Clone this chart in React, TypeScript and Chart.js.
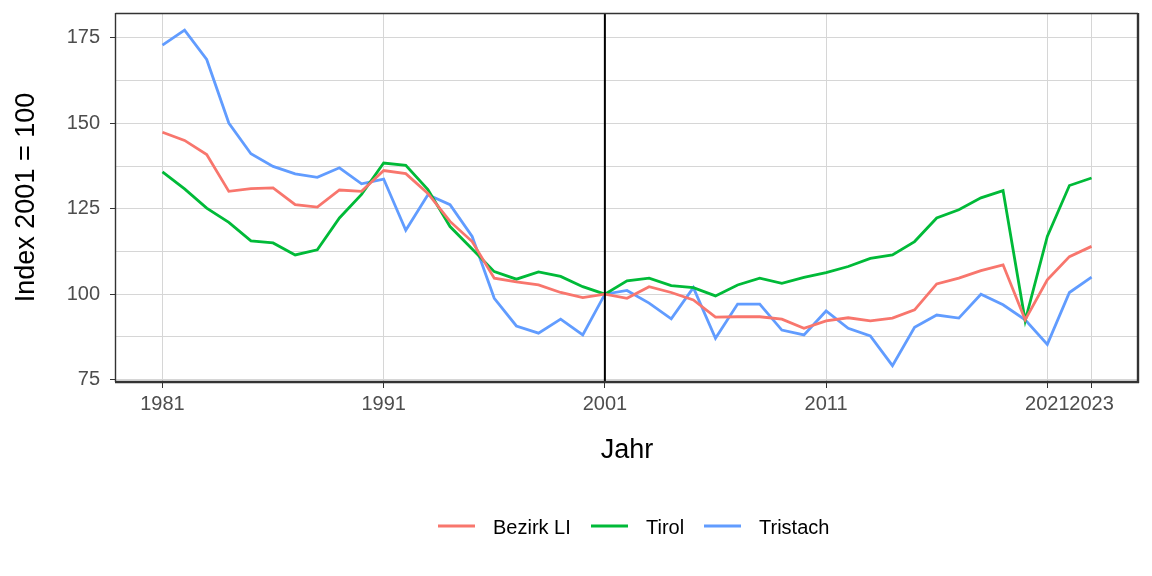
import React, { useEffect, useRef } from 'react';
import { Chart, registerables } from 'chart.js';

Chart.register(...registerables);

const years = [
  1981, 1982, 1983, 1984, 1985, 1986, 1987, 1988, 1989, 1990,
  1991, 1992, 1993, 1994, 1995, 1996, 1997, 1998, 1999, 2000,
  2001, 2002, 2003, 2004, 2005, 2006, 2007, 2008, 2009, 2010,
  2011, 2012, 2013, 2014, 2015, 2016, 2017, 2018, 2019, 2020,
  2021, 2022, 2023,
];

const bezirkLI = [
  147.4, 145.0, 140.9, 130.1, 130.9, 131.1, 126.2, 125.5, 130.5, 130.1,
  136.2, 135.3, 129.5, 121.3, 115.4, 104.7, 103.6, 102.7, 100.5, 99.0,
  100.0, 98.8, 102.2, 100.5, 98.3, 93.3, 93.4, 93.4, 92.7, 90.0,
  92.2, 93.1, 92.2, 93.0, 95.4, 103.0, 104.7, 106.9, 108.6, 92.5,
  104.2, 111.0, 114.0,
];

const tirol = [
  135.8, 130.8, 125.2, 121.0, 115.6, 115.0, 111.5, 113.0, 122.3, 129.2,
  138.4, 137.7, 130.6, 119.8, 113.2, 106.6, 104.4, 106.5, 105.2, 102.2,
  100.0, 103.9, 104.7, 102.5, 101.9, 99.5, 102.7, 104.7, 103.2, 104.9,
  106.3, 108.1, 110.5, 111.5, 115.4, 122.3, 124.7, 128.2, 130.3, 92.2,
  116.9, 131.8, 134.0,
];

const tristach = [
  172.9, 177.3, 168.7, 150.1, 141.1, 137.4, 135.2, 134.2, 137.0, 132.3,
  133.7, 118.7, 129.1, 126.2, 116.9, 98.8, 90.7, 88.6, 92.7, 88.1,
  100.0, 101.1, 97.4, 92.8, 101.9, 87.1, 97.1, 97.1, 89.5, 88.1,
  95.1, 90.0, 87.8, 79.1, 90.3, 93.9, 93.0, 100.0, 96.9, 92.5,
  85.3, 100.5, 105.0,
];

const seriesNames = ['Bezirk LI', 'Tirol', 'Tristach'];
const seriesColors = ['#F8766D', '#00BA38', '#619CFF'];
const xTickValues = [1981, 1991, 2001, 2011, 2021, 2023];
const yTickValues = [75, 87.5, 100, 112.5, 125, 137.5, 150, 162.5, 175];
const yLabelValues = [75, 100, 125, 150, 175];
const referenceYear = 2001;
const xTitle = 'Jahr';
const yTitle = 'Index 2001 = 100';

const FONT = '"Liberation Sans", Arial, sans-serif';

const decorPlugin = {
  id: 'decor',
  afterDatasetsDraw(chart: any) {
    const { ctx, chartArea: a, scales } = chart;
    const x = scales.x;
    ctx.save();
    const vx = x.getPixelForValue(referenceYear);
    ctx.strokeStyle = '#000000';
    ctx.lineWidth = 2;
    ctx.beginPath();
    ctx.moveTo(vx, a.top);
    ctx.lineTo(vx, a.bottom);
    ctx.stroke();
    ctx.strokeStyle = '#333333';
    ctx.lineWidth = 1.4;
    ctx.beginPath();
    ctx.moveTo(a.left - 0.5, a.top + 0.5);
    ctx.lineTo(a.right, a.top + 0.5);
    ctx.moveTo(a.left - 0.5, a.top);
    ctx.lineTo(a.left - 0.5, a.bottom);
    ctx.stroke();
    ctx.lineWidth = 2.4;
    ctx.beginPath();
    ctx.moveTo(a.right, a.top);
    ctx.lineTo(a.right, a.bottom + 1);
    ctx.moveTo(a.left - 1, a.bottom);
    ctx.lineTo(a.right + 1, a.bottom);
    ctx.stroke();
    ctx.restore();
  },
  afterDraw(chart: any) {
    const { ctx, chartArea: a } = chart;
    ctx.save();
    ctx.fillStyle = '#000000';
    ctx.font = `27px ${FONT}`;
    ctx.textAlign = 'center';
    ctx.textBaseline = 'alphabetic';
    ctx.fillText(xTitle, (a.left + a.right) / 2, 458);
    ctx.save();
    ctx.translate(34, (a.top + a.bottom) / 2);
    ctx.rotate(-Math.PI / 2);
    ctx.fillText(yTitle, 0, 0);
    ctx.restore();
    ctx.font = `20px ${FONT}`;
    ctx.textAlign = 'left';
    const sampleStarts = [438, 591, 704];
    for (let i = 0; i < seriesNames.length; i++) {
      const sx = sampleStarts[i];
      ctx.strokeStyle = seriesColors[i];
      ctx.lineWidth = 3;
      ctx.beginPath();
      ctx.moveTo(sx, 526);
      ctx.lineTo(sx + 37, 526);
      ctx.stroke();
      ctx.fillStyle = '#000000';
      ctx.fillText(seriesNames[i], sx + 55, 534);
    }
    ctx.restore();
  },
};

export default function App() {
  const ref = useRef<HTMLCanvasElement | null>(null);

  useEffect(() => {
    if (!ref.current) return;
    const seriesValues = [bezirkLI, tirol, tristach];
    const chart = new Chart(ref.current, {
      type: 'line',
      data: {
        datasets: seriesNames.map((name, i) => ({
          label: name,
          data: years.map((yr, j) => ({ x: yr, y: seriesValues[i][j] })),
          borderColor: seriesColors[i],
          backgroundColor: seriesColors[i],
          borderWidth: 2.8,
          pointRadius: 0,
          tension: 0,
          fill: false,
        })),
      },
      options: {
        animation: false,
        responsive: true,
        maintainAspectRatio: false,
        layout: { padding: { top: 13, right: 14, left: 0, bottom: 0 } },
        plugins: {
          legend: { display: false },
          tooltip: { enabled: false },
        },
        scales: {
          x: {
            type: 'linear',
            min: 1978.9,
            max: 2025.1,
            afterBuildTicks: (s: any) => {
              s.ticks = xTickValues.map((v) => ({ value: v }));
            },
            afterFit: (s: any) => {
              s.height = 194;
              s.paddingLeft = 0;
              s.paddingRight = 0;
            },
            ticks: {
              autoSkip: false,
              maxRotation: 0,
              minRotation: 0,
              padding: 4,
              color: '#4d4d4d',
              font: { size: 20, family: FONT },
              callback: (v: any) => String(v),
            },
            grid: {
              color: '#d6d6d6',
              lineWidth: 1,
              tickLength: 6,
              tickColor: '#333333',
            },
            border: { display: false },
          },
          y: {
            type: 'linear',
            min: 74.3,
            max: 182.3,
            afterBuildTicks: (s: any) => {
              s.ticks = yTickValues.map((v) => ({ value: v }));
            },
            afterFit: (s: any) => {
              s.width = 116;
              s.paddingTop = 0;
              s.paddingBottom = 0;
            },
            ticks: {
              autoSkip: false,
              padding: 10,
              color: '#4d4d4d',
              font: { size: 20, family: FONT },
              callback: (v: any) => (yLabelValues.includes(v) ? String(v) : ''),
            },
            grid: {
              color: '#d6d6d6',
              lineWidth: 1,
              tickLength: 6,
              tickColor: (c: any) =>
                c.tick && yLabelValues.includes(c.tick.value) ? '#333333' : 'rgba(0,0,0,0)',
            },
            border: { display: false },
          },
        },
      },
      plugins: [decorPlugin],
    });
    return () => chart.destroy();
  }, []);

  return (
    <div style={{ position: 'fixed', left: 0, top: 0, width: 1152, height: 576, background: '#ffffff' }}>
      <canvas ref={ref} />
    </div>
  );
}
